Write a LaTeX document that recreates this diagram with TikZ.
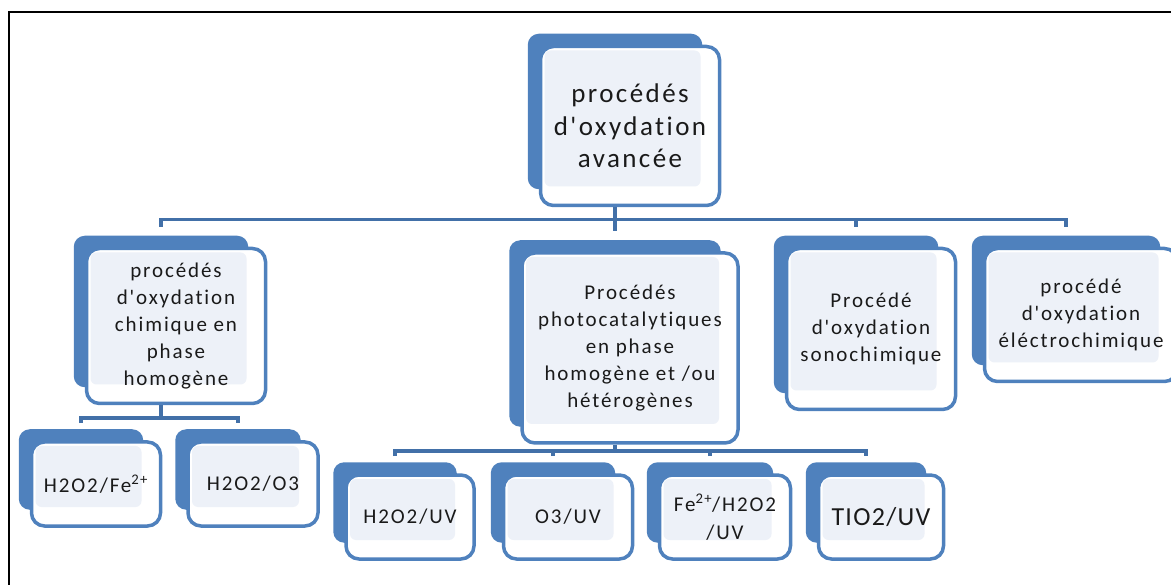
\documentclass[tikz,border=0pt]{standalone}
\usepackage{fontspec}
\setmainfont{Carlito}[Ligatures={TeXOff,NoCommon}]
\usetikzlibrary{positioning, backgrounds}

\definecolor{boxblue}{HTML}{4F81BD}
\definecolor{busblue}{HTML}{4270A8}
\definecolor{boxfill}{HTML}{EDF1F8}
\definecolor{txtgray}{HTML}{1A1A1A}

\tikzstyle{frontbox} = [rectangle, rounded corners=13pt, draw=boxblue, line width=3.5pt, fill=white, align=center, text=txtgray, inner sep=0pt,
  path picture={\fill[boxfill, rounded corners=6pt] ([shift={(4pt,-4pt)}]path picture bounding box.north west) rectangle ([shift={(-19pt,19pt)}]path picture bounding box.south east);}]
\tikzstyle{toplevel} = [frontbox, font=\fontsize{27}{32.5}\selectfont\addfontfeature{LetterSpace=9}]
\tikzstyle{midlevel} = [frontbox, font=\fontsize{21}{27}\selectfont\addfontfeature{LetterSpace=9}]
\tikzstyle{leaf} = [frontbox, minimum height=84pt, font=\fontsize{21}{28}\selectfont\addfontfeature{LetterSpace=9}]
\tikzstyle{backbox} = [fill=boxblue, rounded corners=11pt]
\tikzstyle{bus} = [busblue, line width=3.5pt]

\begin{document}
\begin{tikzpicture}[x=1pt, y=-1pt]

\useasboundingbox (0,0) rectangle (1171,585);
\clip (0,0) rectangle (1171,585);
\draw [black, line width=2.2pt] (9,12) rectangle (1200,610);

\node (root) [toplevel, minimum width=179pt, minimum height=159pt] at (630,126) {procédés\\d'oxydation\\avancée};

\node (chim) [midlevel, minimum width=179pt, minimum height=155pt] at (176,326) {procédés\\d'oxydation\\chimique en\\phase\\homogène};
\node (photo) [midlevel, minimum width=216pt, minimum height=190pt] at (630,348) {Procédés\\photocatalytiques\\en phase\\homogène et /ou\\hétérogènes};
\node (sono) [midlevel, minimum width=169pt, minimum height=161pt] at (871,329) {Procédé\\d'oxydation\\sonochimique};
\node (elec) [midlevel, minimum width=193pt, minimum height=133pt] at (1081,315) {procédé\\d'oxydation\\éléctrochimique};

\node (fe) [leaf, minimum width=129pt] at (96,484) {H2O2/Fe\textsuperscript{2+}};
\node (hoo) [leaf, minimum width=130pt] at (253,484) {H2O2/O3};

\node (huv) [leaf, minimum width=128pt] at (410,517) {H2O2/UV};
\node (ouv) [leaf, minimum width=129pt] at (568,517) {O3/UV};
\node (feuv) [leaf, minimum width=131pt] at (725,517) {Fe\textsuperscript{2+}/H2O2\\/UV};
\node (tio) [leaf, minimum width=125pt, font=\fontsize{26}{30}\selectfont\addfontfeature{LetterSpace=5}] at (881,517) {TIO2/UV};

% blue copies behind the boxes
\begin{scope}[on background layer]
\foreach \n in {root,chim,photo,sono,elec,fe,hoo,huv,ouv,feuv,tio}
  \fill [backbox] ([xshift=-11pt,yshift=11pt]\n.north west) rectangle ([xshift=-19pt,yshift=18pt]\n.south east);
\end{scope}

% first level
\draw [bus] ([xshift=-15pt]root.south) -- ([xshift=-15pt,yshift=20pt]photo.north);
\draw [bus] ([xshift=-15pt,yshift=20pt]chim.north) -- ++(0,7pt) -| ([xshift=-15pt,yshift=20pt]elec.north);
\draw [bus] ([xshift=-15pt,yshift=20pt]sono.north) -- ++(0,7pt);

% second level
\draw [bus] ([xshift=-15pt]chim.south) -- ++(0,-15pt);
\draw [bus] ([xshift=-15pt,yshift=17pt]fe.north) -- ++(0,5pt) -| ([xshift=-15pt,yshift=17pt]hoo.north);

\draw [bus] ([xshift=-15pt]photo.south) -- ++(0,-8pt);
\draw [bus] ([xshift=-15pt,yshift=17pt]huv.north) -- ++(0,5pt) -| ([xshift=-15pt,yshift=17pt]tio.north);
\draw [bus] ([xshift=-15pt,yshift=17pt]ouv.north) -- ++(0,5pt);
\draw [bus] ([xshift=-15pt,yshift=17pt]feuv.north) -- ++(0,5pt);

\end{tikzpicture}
\end{document}
